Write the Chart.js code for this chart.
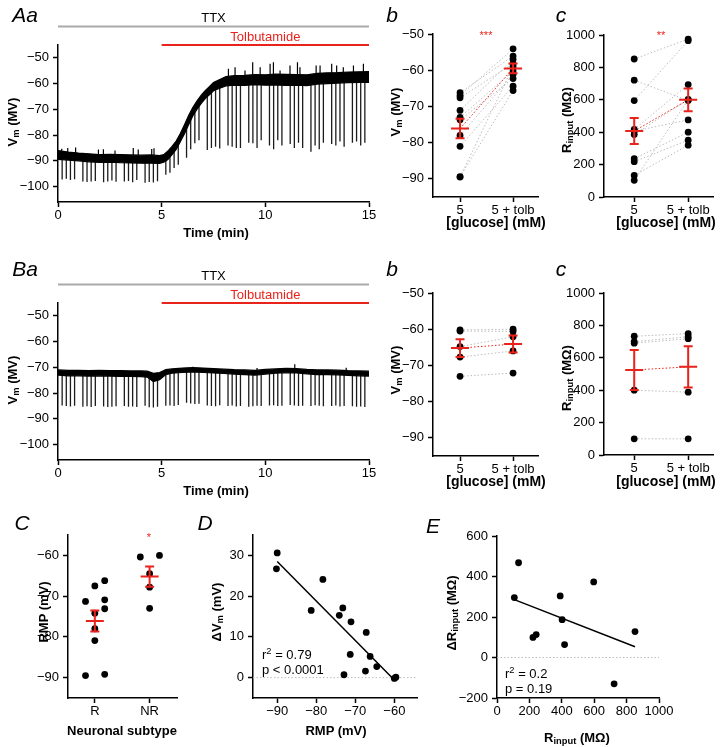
<!DOCTYPE html>
<html>
<head>
<meta charset="utf-8">
<script src="https://cdn.jsdelivr.net/npm/chart.js@4.4.1/dist/chart.umd.min.js"></script>
<style>
body{margin:0;background:#fff;width:720px;height:747px;position:relative;overflow:hidden;font-family:"Liberation Sans",Arial,sans-serif;}
canvas{position:absolute;}
.t{position:absolute;transform:translate(-50%,-50%);white-space:nowrap;color:#000;font-size:13px;line-height:1;}
.l{transform:translate(0,-50%);}
.b{font-weight:bold;}
.g{font-size:14px;}
.v{transform:translate(-50%,-50%) rotate(-90deg);}
.p{font-style:italic;font-size:21px;}
.r{color:#e8231c;font-size:11px;}
sub{font-size:0.72em;vertical-align:-0.3em;line-height:0;}
sup{font-size:0.72em;vertical-align:0.45em;line-height:0;}
</style>
</head>
<body>
<script>
// --- data ---
// Aa / Ba : membrane potential traces (min, mV)
const ttxSpan = [0, 15];
const tolbSpan = [5, 15];
const aTime = [0, 0.5, 1, 1.5, 2, 2.5, 3, 3.5, 4, 4.5, 4.9, 5.1, 5.3, 5.5, 5.7, 5.9, 6.1, 6.3, 6.5, 6.7, 6.9, 7.1, 7.3, 7.5, 7.8, 8.1, 8.5, 9, 9.5, 10, 10.5, 11, 11.5, 12, 12.5, 13, 13.5, 14, 14.5, 15];
const aUpper = [-86.0, -86.6, -87.0, -87.3, -87.6, -87.5, -87.6, -87.7, -87.8, -87.7, -88.0, -87.6, -86.2, -84.4, -82.3, -79.4, -76.0, -72.4, -69.3, -66.8, -64.6, -62.7, -61.2, -59.6, -58.4, -57.3, -56.9, -56.8, -56.5, -56.6, -56.3, -56.4, -56.5, -56.6, -56.0, -55.8, -55.7, -55.5, -55.4, -55.3];
const aLower = [-89.4, -89.7, -90.0, -90.4, -90.6, -90.5, -90.7, -90.8, -90.9, -90.9, -91.0, -90.5, -89.5, -87.6, -85.6, -82.6, -79.5, -76.0, -72.6, -70.0, -67.8, -65.8, -64.4, -62.8, -61.8, -60.9, -60.6, -60.7, -60.4, -60.6, -60.5, -60.7, -60.6, -60.8, -60.2, -60.0, -59.8, -59.6, -59.5, -59.5];
const spikeTimes = [0.2, 0.4, 0.6, 0.8, 1.2, 1.4, 1.6, 1.8, 2.2, 2.4, 2.6, 2.8, 3.2, 3.4, 3.6, 3.8, 4.2, 4.4, 4.6, 4.8,
  5.2, 5.4, 5.6, 5.8, 6.2, 6.4, 6.6, 6.8, 7.2, 7.4, 7.6, 7.8, 8.2, 8.4, 8.6, 8.8, 9.2, 9.4, 9.6, 9.8,
  10.2, 10.4, 10.6, 10.8, 11.2, 11.4, 11.6, 11.8, 12.2, 12.4, 12.6, 12.8, 13.2, 13.4, 13.6, 13.8, 14.2, 14.4, 14.6, 14.8];
const aSpikeTop = [-88.5, -88.5, -88.6, -88.8, -89, -89, -89, -89, -89, -89, -89.1, -89.1, -89.1, -89.2, -89.2, -89.2, -89.2, -89.3, -89.3, -89.4,
  -88.6, -87.2, -85, -82, -76.5, -73.5, -70.5, -68, -64.2, -62.5, -61.5, -60.5, -59, -59, -59, -59, -58.8, -58.8, -58.8, -58.8,
  -58.8, -58.8, -58.8, -58.8, -58.8, -58.8, -58.8, -58.8, -58.6, -58.6, -58.6, -58.6, -58, -58, -58, -58, -57.6, -57.6, -57.6, -57.6];
const aSpikeBottom = [-97.3, -97.0, -97.5, -97.2, -98.0, -98.2, -98.0, -97.8, -98.3, -98.0, -97.6, -98.1, -98.0, -97.8, -98.3, -97.5, -98.5, -98.2, -98.4, -97.9,
  -95.4, -94.6, -92.8, -91.5, -88.8, -85.5, -83.2, -82.0, -85.8, -85.0, -84.5, -85.2, -84.0, -84.5, -85.0, -85.0, -83.0, -83.2, -85.0, -82.0,
  -84.0, -85.5, -82.0, -84.0, -83.5, -85.0, -83.0, -85.0, -86.5, -84.0, -85.5, -83.0, -83.5, -84.0, -82.5, -84.5, -83.0, -82.5, -84.0, -83.0];
const aPeakTime = [0.18, 0.47, 0.85, 1.95, 2.19, 2.75, 3.63, 3.87, 4.52, 4.63, 8.22, 8.54, 9.02, 9.39, 9.75, 10.23, 10.39, 10.71, 11.19, 11.55, 11.67, 12.45, 12.64, 13.2, 13.44, 13.76, 14.25, 14.73];
const aPeakTop = [-85.3, -85.0, -84.8, -85.6, -85.5, -86.0, -85.0, -85.6, -85.4, -85.1, -54.2, -53.6, -54.9, -51.7, -53.6, -52.3, -51.7, -54.9, -53.0, -51.7, -53.6, -53.0, -53.0, -52.3, -53.0, -53.6, -53.0, -52.3];
const aPeakBase = [-87, -87, -87.3, -87.6, -87.6, -87.5, -87.7, -87.8, -87.7, -87.7, -57, -57, -56.8, -56.7, -56.5, -56.5, -56.5, -56.4, -56.3, -56.4, -56.5, -56.6, -56.3, -56.0, -55.8, -55.7, -55.5, -55.4];

const bTime = [0, 0.5, 1, 1.5, 2, 2.5, 3, 3.5, 4, 4.3, 4.6, 4.9, 5.2, 5.5, 6, 6.5, 7, 7.5, 8, 8.5, 9, 9.5, 10, 10.5, 11, 11.5, 12, 12.5, 13, 13.5, 14, 14.5, 15];
const bUpper = [-71.0, -71.2, -71.2, -71.3, -71.2, -71.3, -71.3, -71.4, -71.4, -71.5, -72.3, -72.0, -70.9, -70.6, -70.3, -70.1, -70.3, -70.5, -70.7, -70.9, -71.0, -71.2, -70.8, -70.6, -70.4, -70.5, -70.8, -71.0, -71.0, -71.1, -71.3, -71.4, -71.5];
const bLower = [-73.0, -73.3, -73.3, -73.4, -73.3, -73.4, -73.5, -73.5, -73.6, -73.8, -75.5, -74.8, -72.8, -72.3, -72.0, -71.8, -72.0, -72.2, -72.4, -72.6, -72.8, -73.0, -72.6, -72.3, -72.1, -72.2, -72.5, -72.8, -72.8, -72.9, -73.1, -73.3, -73.4];
const bSpikeTop = [-72.2, -72.2, -72.2, -72.2, -72.2, -72.2, -72.2, -72.2, -72.3, -72.3, -72.3, -72.3, -72.3, -72.3, -72.3, -72.3, -72.4, -72.4, -73.5, -73.2,
  -71.8, -71.6, -71.4, -71.3, -71.2, -71.1, -71.1, -71.2, -71.3, -71.4, -71.4, -71.5, -71.5, -71.6, -71.7, -71.7, -71.8, -71.9, -72.0, -71.9,
  -71.7, -71.6, -71.5, -71.4, -71.3, -71.3, -71.4, -71.5, -71.6, -71.7, -71.8, -71.9, -71.9, -72.0, -72.0, -72.1, -72.2, -72.3, -72.4, -72.4];
const bSpikeBottom = [-84.8, -85.0, -85.2, -84.9, -85.3, -85.1, -85.4, -85.0, -85.2, -85.4, -85.3, -85.1, -85.0, -85.3, -85.2, -85.4, -84.9, -85.5, -85.6, -85.3,
  -84.9, -84.8, -85.0, -84.6, -83.8, -84.0, -84.2, -84.1, -84.8, -85.0, -85.1, -84.7, -85.0, -84.8, -85.2, -85.0, -85.3, -85.1, -84.9, -85.0,
  -84.8, -84.7, -85.0, -84.9, -84.6, -84.8, -85.0, -84.9, -85.0, -84.7, -84.9, -85.1, -85.0, -84.8, -85.2, -85.0, -85.1, -85.3, -85.2, -85.4];
const bPeakTime = [6.5, 9.6, 11.42, 13.9];
const bPeakTop = [-69.8, -70.3, -68.8, -70.2];
const bPeakBase = [-70.8, -71.3, -70.8, -71.2];

// Ab / Ac : 5 mM glucose vs 5 mM + tolbutamide (responders)
const glucoseLabels = ['5', '5 + tolb'];
const abPre = [-66.2, -67.0, -67.6, -71.1, -73.0, -73.7, -78.0, -81.0, -89.4, -89.5];
const abPost = [-56.1, -54.1, -58.2, -57.0, -60.2, -62.3, -61.2, -64.4, -65.6, -59.0];
const abMean = [-76.1, -59.5];
const abSem = [2.7, 1.35];
const acPre = [852, 721, 595, 417, 407, 386, 236, 218, 133, 103];
const acPost = [975, 595, 965, 694, 476, 602, 400, 351, 320, 600];
const acMean = [407, 600];
const acSem = [80, 70];

// Bb / Bc : non-responders
const bbPre = [-60.2, -60.5, -64.8, -67.7, -73.0];
const bbPost = [-60.0, -60.6, -62.1, -66.0, -72.1];
const bbMean = [-65.2, -64.1];
const bbSem = [2.45, 2.35];
const bcPre = [733, 700, 690, 400, 100];
const bcPost = [749, 730, 718, 388, 100];
const bcMean = [525, 544];
const bcSem = [123, 128];

// C : resting membrane potential by subtype
const subtypes = ['R', 'NR'];
const cRJitter = [-0.17, 0, 0.18, 0.18, 0.18, 0, 0, 0, -0.17, 0.18];
const cRValues = [-71.3, -67.5, -66.2, -70.9, -73.1, -74.2, -78.0, -80.9, -89.5, -89.2];
const cNRJitter = [-0.17, 0.18, 0, 0, 0];
const cNRValues = [-60.4, -60.0, -64.5, -67.8, -73.0];
const cMean = [-76.1, -65.2];
const cSem = [2.6, 2.5];

// D : delta Vm vs RMP
const dRmp = [-90.0, -90.2, -78.3, -81.3, -73.2, -74.1, -71.1, -67.2, -71.3, -66.2, -64.5, -72.9, -67.4, -60.0, -59.6];
const dDeltaV = [30.6, 26.7, 24.1, 16.5, 17.1, 15.3, 13.7, 11.1, 5.7, 5.2, 2.7, 0.7, 1.6, -0.2, 0.1];
const dFitX = [-90, -60];
const dFitY = [28.5, -0.6];

// E : delta Rinput vs Rinput
const eRin = [133, 107, 222, 242, 390, 402, 417, 597, 852, 723];
const eDeltaR = [468, 296, 99, 113, 304, 187, 64, 373, 128, -130];
const eFitX = [107, 852];
const eFitY = [286, 53];

// tick values
const traceXTicks = [0, 5, 10, 15];
const traceYTicks = [-100, -90, -80, -70, -60, -50];
const vmTicks = [-90, -80, -70, -60, -50];
const rinTicks = [0, 200, 400, 600, 800, 1000];
const cYTicks = [-90, -80, -70, -60];
const dXTicks = [-90, -80, -70, -60];
const dYTicks = [0, 10, 20, 30];
const eXTicks = [0, 200, 400, 600, 800, 1000];
const eYTicks = [-200, 0, 200, 400, 600];

// --- drawing ---
const FONT = '"Liberation Sans", Arial, sans-serif';
const RED = '#e8231c';
const DOTGREY = '#bdbdbd';

// bars for TTX and tolbutamide above the trace
const drugBars = {
  id: 'drugBars',
  afterDraw(chart, args, o) {
    if (!o || !o.on) return;
    const ctx = chart.ctx, x = chart.scales.x, top = chart.chartArea.top;
    ctx.save();
    ctx.lineWidth = 2;
    ctx.strokeStyle = '#a9a9a9';
    ctx.beginPath();
    ctx.moveTo(x.getPixelForValue(ttxSpan[0]), top - 18.5);
    ctx.lineTo(x.getPixelForValue(ttxSpan[1]), top - 18.5);
    ctx.stroke();
    ctx.strokeStyle = RED;
    ctx.beginPath();
    ctx.moveTo(x.getPixelForValue(tolbSpan[0]), top);
    ctx.lineTo(x.getPixelForValue(tolbSpan[1]), top);
    ctx.stroke();
    ctx.font = '13px ' + FONT;
    ctx.textAlign = 'center';
    ctx.textBaseline = 'middle';
    ctx.fillStyle = '#000';
    ctx.fillText('TTX', (x.getPixelForValue(ttxSpan[0]) + x.getPixelForValue(ttxSpan[1])) / 2, top - 27);
    ctx.fillStyle = RED;
    ctx.fillText('Tolbutamide', (x.getPixelForValue(tolbSpan[0]) + x.getPixelForValue(tolbSpan[1])) / 2, top - 7.5);
    ctx.restore();
  }
};

// red mean +/- SEM markers
const meanSem = {
  id: 'meanSem',
  afterDatasetsDraw(chart, args, o) {
    if (!o || !o.means) return;
    const ctx = chart.ctx, x = chart.scales.x, y = chart.scales.y;
    ctx.save();
    ctx.strokeStyle = RED;
    ctx.lineWidth = 2;
    o.means.forEach((m, i) => {
      const px = x.getPixelForValue(i);
      const pm = y.getPixelForValue(m);
      const hi = y.getPixelForValue(m + o.sems[i]);
      const lo = y.getPixelForValue(m - o.sems[i]);
      ctx.beginPath();
      ctx.moveTo(px - 9, pm); ctx.lineTo(px + 9, pm);
      ctx.moveTo(px, hi); ctx.lineTo(px, lo);
      ctx.moveTo(px - 4.5, hi); ctx.lineTo(px + 4.5, hi);
      ctx.moveTo(px - 4.5, lo); ctx.lineTo(px + 4.5, lo);
      ctx.stroke();
    });
    ctx.restore();
  }
};
Chart.register(drugBars, meanSem);

function place(left, top, w, h) {
  const c = document.createElement('canvas');
  c.width = w; c.height = h;
  c.style.left = left + 'px'; c.style.top = top + 'px';
  document.body.appendChild(c);
  return c;
}

function txt(html, x, y, cls) {
  const d = document.createElement('div');
  d.className = 't ' + (cls || '');
  d.style.left = x + 'px'; d.style.top = y + 'px';
  d.innerHTML = html;
  document.body.appendChild(d);
}

function axis(min, max, vals, fit, isX, names) {
  return {
    type: 'linear', min: min, max: max,
    afterBuildTicks: s => { s.ticks = vals.map(v => ({ value: v })); },
    afterFit: s => { if (isX) s.height = fit; else s.width = fit; },
    ticks: {
      color: '#000', font: { family: FONT, size: 13 }, padding: isX ? 1 : 4,
      autoSkip: false, maxRotation: 0,
      callback: (v, i) => names ? names[i] : String(v).replace('-', '\u2212')
    },
    grid: { drawOnChartArea: false, drawTicks: true, tickLength: 5, tickWidth: 1.5, tickColor: '#000' },
    border: { display: true, color: '#000', width: 1.5 }
  };
}

function makeChart(canvas, pad, xs, ys, datasets, extra) {
  return new Chart(canvas, {
    type: 'line',
    data: { datasets: datasets },
    options: {
      responsive: false, animation: false, devicePixelRatio: 1, events: [],
      layout: { padding: pad },
      scales: { x: xs, y: ys },
      plugins: Object.assign({ legend: { display: false }, tooltip: { enabled: false } }, extra || {})
    }
  });
}

function dots(points) {
  return { data: points, showLine: false, pointRadius: 3.4, pointBackgroundColor: '#000', pointBorderWidth: 0, borderColor: '#000' };
}
function seg(points, color, width, dash) {
  return { data: points, borderColor: color, borderWidth: width, borderDash: dash || [], pointRadius: 0, fill: false, spanGaps: false, tension: 0 };
}

function traceSets(t, hi, lo, spTop, spBot, pkT, pkTop, pkBase) {
  const up = t.map((v, i) => ({ x: v, y: hi[i] }));
  const dn = t.map((v, i) => ({ x: v, y: lo[i] }));
  const spikes = [];
  spikeTimes.forEach((v, i) => { spikes.push({ x: v, y: spTop[i] }, { x: v, y: spBot[i] }, { x: v, y: null }); });
  const peaks = [];
  pkT.forEach((v, i) => { peaks.push({ x: v, y: pkBase[i] }, { x: v, y: pkTop[i] }, { x: v, y: null }); });
  return [
    { data: up, borderColor: '#000', borderWidth: 1.2, backgroundColor: '#000', fill: '+1', pointRadius: 0, tension: 0 },
    { data: dn, borderColor: '#000', borderWidth: 1.2, pointRadius: 0, fill: false, tension: 0 },
    seg(spikes, '#1c1c1c', 1.3),
    seg(peaks, '#000', 1.2)
  ];
}

function pairSets(pre, post, means) {
  const pts = pre.map(v => ({ x: 0, y: v })).concat(post.map(v => ({ x: 1, y: v })));
  const sets = [dots(pts)];
  sets.push(seg([{ x: 0, y: means[0] }, { x: 1, y: means[1] }], RED, 1, [1.5, 2]));
  pre.forEach((v, i) => sets.push(seg([{ x: 0, y: v }, { x: 1, y: post[i] }], DOTGREY, 1, [1.5, 2])));
  return sets;
}

// Aa
makeChart(place(0, 0, 380, 240), { left: 0, top: 45, right: 11, bottom: 8 },
  axis(0, 15, traceXTicks, 30, true), axis(-106, -45, traceYTicks, 58, false),
  traceSets(aTime, aUpper, aLower, aSpikeTop, aSpikeBottom, aPeakTime, aPeakTop, aPeakBase),
  { drugBars: { on: true } });
// Ba
makeChart(place(0, 258, 380, 240), { left: 0, top: 45, right: 11, bottom: 8 },
  axis(0, 15, traceXTicks, 30, true), axis(-106, -45, traceYTicks, 58, false),
  traceSets(bTime, bUpper, bLower, bSpikeTop, bSpikeBottom, bPeakTime, bPeakTop, bPeakBase),
  { drugBars: { on: true } });
// Ab
makeChart(place(380, 0, 168, 240), { left: 0, top: 34, right: 10, bottom: 18 },
  axis(-0.51, 1.47, [0, 1], 25, true, glucoseLabels), axis(-95, -50, vmTicks, 53, false),
  pairSets(abPre, abPost, abMean), { meanSem: { means: abMean, sems: abSem } });
// Ac
makeChart(place(550, 0, 170, 240), { left: 0, top: 35, right: 7, bottom: 18 },
  axis(-0.56, 1.46, [0, 1], 25, true, glucoseLabels), axis(0, 1000, rinTicks, 54, false),
  pairSets(acPre, acPost, acMean), { meanSem: { means: acMean, sems: acSem } });
// Bb
makeChart(place(380, 259, 168, 240), { left: 0, top: 34, right: 10, bottom: 18 },
  axis(-0.51, 1.47, [0, 1], 25, true, glucoseLabels), axis(-95, -50, vmTicks, 53, false),
  pairSets(bbPre, bbPost, bbMean), { meanSem: { means: bbMean, sems: bbSem } });
// Bc
makeChart(place(550, 258, 170, 240), { left: 0, top: 35, right: 7, bottom: 18 },
  axis(-0.56, 1.46, [0, 1], 25, true, glucoseLabels), axis(0, 1000, rinTicks, 54, false),
  pairSets(bcPre, bcPost, bcMean), { meanSem: { means: bcMean, sems: bcSem } });
// C
makeChart(place(0, 500, 190, 247), { left: 0, top: 35, right: 13, bottom: 24 },
  axis(-0.49, 1.5, [0, 1], 25, true, subtypes), axis(-95, -55, cYTicks, 68, false),
  [dots(cRValues.map((v, i) => ({ x: cRJitter[i], y: v })).concat(cNRValues.map((v, i) => ({ x: 1 + cNRJitter[i], y: v }))))],
  { meanSem: { means: cMean, sems: cSem } });
// D
const dRange = [-96.2, -54.2];
makeChart(place(190, 500, 240, 247), { left: 0, top: 35, right: 13, bottom: 24 },
  axis(dRange[0], dRange[1], dXTicks, 25, true), axis(-5, 35, dYTicks, 63, false),
  [dots(dRmp.map((v, i) => ({ x: v, y: dDeltaV[i] }))),
   seg(dFitX.map((v, i) => ({ x: v, y: dFitY[i] })), '#000', 1.5),
   seg([{ x: dRange[0], y: 0 }, { x: dRange[1], y: 0 }], DOTGREY, 1, [1.5, 2])]);
// E
makeChart(place(430, 500, 290, 247), { left: 0, top: 36, right: 61, bottom: 24 },
  axis(0, 1000, eXTicks, 25, true), axis(-200, 600, eYTicks, 67, false),
  [dots(eRin.map((v, i) => ({ x: v, y: eDeltaR[i] }))),
   seg(eFitX.map((v, i) => ({ x: v, y: eFitY[i] })), '#000', 1.5),
   seg([{ x: 0, y: 0 }, { x: 1000, y: 0 }], DOTGREY, 1, [1.5, 2])]);

// --- text ---
txt('Aa', 25, 14, 'p'); txt('b', 392, 14, 'p'); txt('c', 561, 14, 'p');
txt('Ba', 25, 268, 'p'); txt('b', 392, 268, 'p'); txt('c', 561, 268, 'p');
txt('C', 22, 522, 'p'); txt('D', 205, 522, 'p'); txt('E', 433, 525, 'p');

txt('V<sub>m</sub> (MV)', 12, 122, 'b v');
txt('Time (min)', 216, 232, 'b');
txt('V<sub>m</sub> (MV)', 12, 380, 'b v');
txt('Time (min)', 216, 490, 'b');

txt('V<sub>m</sub> (MV)', 395, 112, 'b v');
txt('[glucose] (mM)', 496, 222, 'b g');
txt('R<sub>input</sub> (M\u03a9)', 566, 120, 'b v');
txt('[glucose] (mM)', 666, 222, 'b g');
txt('***', 486, 35, 'r');
txt('**', 661, 35, 'r');

txt('V<sub>m</sub> (MV)', 395, 370, 'b v');
txt('[glucose] (mM)', 496, 481, 'b g');
txt('R<sub>input</sub> (M\u03a9)', 566, 378, 'b v');
txt('[glucose] (mM)', 666, 481, 'b g');

txt('RMP (mV)', 43, 612, 'b v');
txt('Neuronal subtype', 122, 730, 'b');
txt('*', 149, 537, 'r');

txt('\u0394V<sub>m</sub> (mV)', 216, 612, 'b v');
txt('RMP (mV)', 336, 730, 'b');
txt('r<sup>2</sup> = 0.79', 262, 654, 'l');
txt('p &lt; 0.0001', 262, 669, 'l');

txt('\u0394R<sub>input</sub> (M\u03a9)', 451, 613, 'b v');
txt('R<sub>input</sub> (M\u03a9)', 577, 737, 'b');
txt('r<sup>2</sup> = 0.2', 505, 673, 'l');
txt('p = 0.19', 505, 688, 'l');
</script>
</body>
</html>
